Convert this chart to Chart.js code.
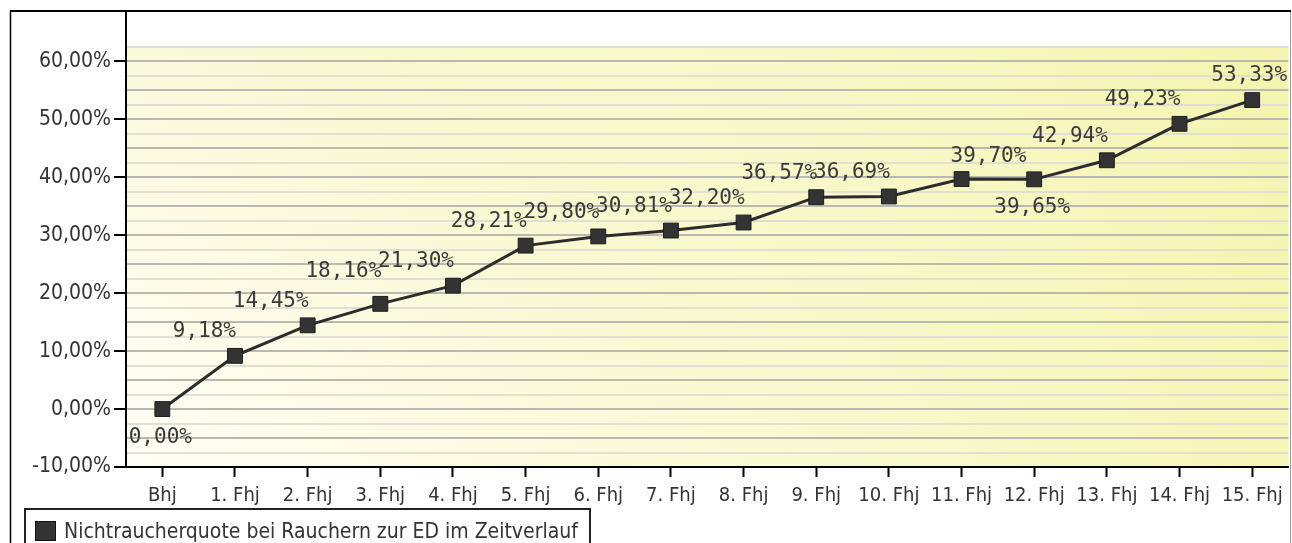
<!DOCTYPE html>
<html>
<head>
<meta charset="utf-8">
<script src="https://cdn.jsdelivr.net/npm/chart.js@4.4.1/dist/chart.umd.min.js"></script>
<style>
  html, body { margin: 0; padding: 0; background: #ffffff; overflow: hidden; }
  #wrap { position: absolute; left: 0; top: 0; width: 1300px; height: 543px; }
</style>
</head>
<body>
<div id="wrap"><canvas id="chart" width="1300" height="543"></canvas></div>
<script>
// Half-year periods: baseline (Bhj) and follow-up half-years (Fhj)
const categories = ['Bhj', '1. Fhj', '2. Fhj', '3. Fhj', '4. Fhj', '5. Fhj', '6. Fhj', '7. Fhj',
  '8. Fhj', '9. Fhj', '10. Fhj', '11. Fhj', '12. Fhj', '13. Fhj', '14. Fhj', '15. Fhj'];

// Non-smoker rate (%) among smokers at initial diagnosis
const quoteValues = [0.00, 9.18, 14.45, 18.16, 21.30, 28.21, 29.80, 30.81,
  32.20, 36.57, 36.69, 39.70, 39.65, 42.94, 49.23, 53.33];

const seriesLabel = 'Nichtraucherquote bei Rauchern zur ED im Zeitverlauf';

// Labelled y ticks and the finer grid between them
const yTickLabels = [-10, 0, 10, 20, 30, 40, 50, 60];
const Y_MIN = -10;
const Y_TOP = 68.62;     // axis line runs up to the frame
const GRID_TOP = 62.5;   // shaded plot band ends here
const GRID_STEP = 2.5;

// Where each value label sits relative to its marker
const labelPlacement = ['below', 'upLeft', 'upLeft', 'upLeftHigh', 'upLeft', 'upLeft', 'upLeft', 'upLeft',
  'upLeft', 'upLeft', 'upLeft', 'upRight', 'below', 'upLeft', 'upLeft', 'up'];

const AXIS_FONT = "'DejaVu Sans Condensed', 'DejaVu Sans', sans-serif";
const LABEL_FONT = "'DejaVu Sans Mono', monospace";
const TEXT_COLOR = '#333333';

const pct = v => v.toFixed(2).replace('.', ',') + '%';

const gridValues = [];
for (let v = Y_MIN; v <= GRID_TOP + 1e-9; v += GRID_STEP) gridValues.push(Math.round(v * 100) / 100);

const isLabelled = v => yTickLabels.includes(v);
const isMajor = v => Math.abs(v % 5) < 1e-9;

// Soft yellow gradient behind the plot band
const bandPlugin = {
  id: 'band',
  beforeDraw(chart) {
    const { ctx, chartArea: a, scales: { y } } = chart;
    const top = y.getPixelForValue(GRID_TOP);
    const right = Math.min(a.right, 1290);
    const w = right - a.left, h = a.bottom - top;
    ctx.save();
    // lighter towards the bottom
    const gv = ctx.createLinearGradient(a.left, a.bottom, a.left + 250, top);
    gv.addColorStop(0, '#fefef7');
    gv.addColorStop(1, '#f9f9d8');
    ctx.fillStyle = gv;
    ctx.fillRect(a.left, top, w, h);
    // warmer towards the right
    const gh = ctx.createLinearGradient(a.left, a.bottom, right, top);
    gh.addColorStop(0, 'rgba(245,245,160,0)');
    gh.addColorStop(0.6, 'rgba(245,245,160,0.25)');
    gh.addColorStop(1, 'rgba(240,240,140,0.55)');
    ctx.fillStyle = gh;
    ctx.fillRect(a.left, top, w, h);
    ctx.restore();
  }
};

// Value labels next to each marker
const valueLabelPlugin = {
  id: 'valueLabels',
  afterDatasetsDraw(chart) {
    const { ctx } = chart;
    const meta = chart.getDatasetMeta(0);
    const values = chart.data.datasets[0].data;
    ctx.save();
    ctx.font = '21px ' + LABEL_FONT;
    ctx.fillStyle = '#3a3a3a';
    ctx.textBaseline = 'middle';
    meta.data.forEach((pt, i) => {
      const text = pct(values[i]);
      let x = pt.x, y = pt.y;
      switch (labelPlacement[i]) {
        case 'below': ctx.textAlign = 'center'; x -= 2; y += 28; break;
        case 'up': ctx.textAlign = 'center'; x -= 3; y -= 25; break;
        case 'upRight': ctx.textAlign = 'left'; x -= 11; y -= 23; break;
        case 'upLeftHigh': ctx.textAlign = 'right'; x += 1; y -= 32; break;
        default: ctx.textAlign = 'right'; x += 1; y -= 24;
      }
      ctx.fillText(text, x, y);
    });
    ctx.restore();
  }
};

// Outer frame and the legend box below the axis
const framePlugin = {
  id: 'frame',
  afterDraw(chart) {
    const { ctx } = chart;
    ctx.save();
    ctx.strokeStyle = '#000000';
    ctx.lineWidth = 2;
    ctx.beginPath();
    ctx.moveTo(10, 11); ctx.lineTo(1291, 11);
    ctx.stroke();
    ctx.lineWidth = 1.5;
    ctx.beginPath();
    ctx.moveTo(10.5, 11); ctx.lineTo(10.5, 543);
    ctx.stroke();
    ctx.strokeStyle = '#9a9a9a';
    ctx.lineWidth = 1;
    ctx.beginPath();
    ctx.moveTo(1290.5, 12); ctx.lineTo(1290.5, 543);
    ctx.stroke();

    // legend
    const ds = chart.data.datasets[0];
    ctx.strokeStyle = '#222222';
    ctx.lineWidth = 2;
    ctx.strokeRect(25, 509, 565, 60);
    ctx.fillStyle = ds.pointBackgroundColor;
    ctx.fillRect(35, 521, 21, 20);
    ctx.strokeStyle = '#111111';
    ctx.lineWidth = 1;
    ctx.strokeRect(35.5, 521.5, 20, 19);
    ctx.font = '21px ' + AXIS_FONT;
    ctx.fillStyle = TEXT_COLOR;
    ctx.textAlign = 'left';
    ctx.textBaseline = 'alphabetic';
    ctx.fillText(ds.label, 64, 538);
    ctx.restore();
  }
};

new Chart(document.getElementById('chart'), {
  type: 'line',
  data: {
    labels: categories,
    datasets: [{
      label: seriesLabel,
      data: quoteValues,
      borderColor: '#2c2c2c',
      borderWidth: 3,
      tension: 0,
      pointStyle: 'rect',
      pointRadius: 10.5,
      pointBackgroundColor: '#333333',
      pointBorderColor: '#1e1e1e',
      pointBorderWidth: 1,
      clip: false
    }]
  },
  options: {
    responsive: false,
    animation: false,
    layout: { padding: { top: 11, left: 0, right: 5, bottom: 0 } },
    plugins: { legend: { display: false }, tooltip: { enabled: false }, title: { display: false } },
    scales: {
      x: {
        type: 'category',
        offset: true,
        afterFit(s) { s.height = 76; s.paddingLeft = 0; s.paddingRight = 0; },
        grid: { drawOnChartArea: false, offset: false, tickColor: '#000000', tickLength: 10, tickWidth: 2 },
        border: { color: '#000000', width: 2 },
        ticks: { font: { family: AXIS_FONT, size: 20 }, color: TEXT_COLOR, padding: 7, maxRotation: 0, autoSkip: false }
      },
      y: {
        type: 'linear',
        min: Y_MIN,
        max: Y_TOP,
        afterBuildTicks(s) { s.ticks = gridValues.map(v => ({ value: v })); },
        afterFit(s) { s.width = 126; s.paddingTop = 0; s.paddingBottom = 0; },
        grid: {
          color: c => isMajor(c.tick.value) ? '#b9b9b2' : '#e0dfd2',
          lineWidth: 2,
          tickColor: c => isLabelled(c.tick.value) ? '#000000' : 'rgba(0,0,0,0)',
          tickLength: 12,
          tickWidth: 2
        },
        border: { color: '#000000', width: 2 },
        ticks: {
          autoSkip: false,
          padding: 3,
          color: TEXT_COLOR,
          font: { family: AXIS_FONT, size: 21 },
          callback: v => isLabelled(v) ? pct(v) : ''
        }
      }
    }
  },
  plugins: [bandPlugin, valueLabelPlugin, framePlugin]
});
</script>
</body>
</html>
